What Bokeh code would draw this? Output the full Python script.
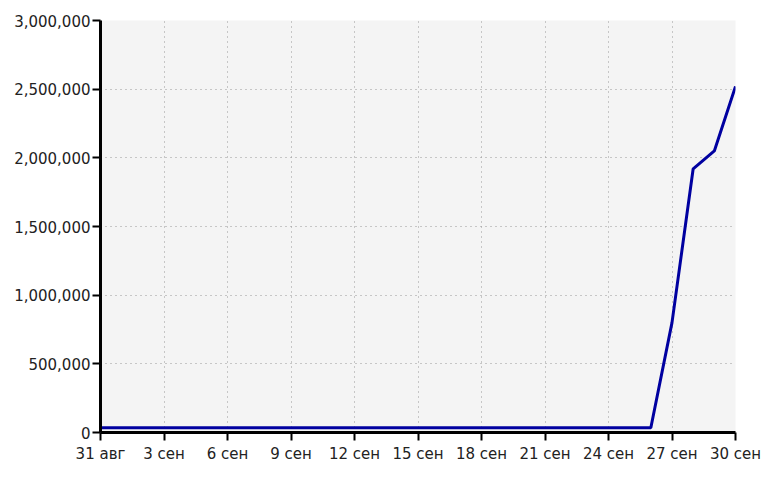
from bokeh.plotting import figure
from bokeh.models import Range1d, FixedTicker, NumeralTickFormatter, Legend, LegendItem
from bokeh.embed import file_html
from bokeh.resources import INLINE

# ---- data ----
dates = ["31 авг"] + [f"{d} сен" for d in range(1, 31)]
views = [35000] * 27 + [800000, 1920000, 2050000, 2520000]
series_name = "Просмотры"
x_tick_idx = list(range(0, 31, 3))
y_ticks = [0, 500000, 1000000, 1500000, 2000000, 2500000, 3000000]

xs = list(range(len(dates)))

p = figure(frame_width=635, frame_height=412, output_backend="svg", toolbar_location=None,
           x_range=Range1d(0, 30), y_range=Range1d(0, 3000000),
           min_border_left=100, min_border_right=26, min_border_top=20, min_border_bottom=62)

p.background_fill_color = "#f4f4f4"
p.border_fill_color = "white"
p.outline_line_color = None

r = p.line(xs, views, line_color="#0000a0", line_width=3)

for ax in (p.xaxis[0], p.yaxis[0]):
    ax.axis_line_color = "black"
    ax.axis_line_width = 3
    ax.major_tick_line_color = "black"
    ax.major_tick_line_width = 2
    ax.major_tick_out = 8
    ax.major_tick_in = 0
    ax.minor_tick_line_color = None
    ax.major_label_text_font = "DejaVu Sans"
    ax.major_label_text_font_size = "15px"
    ax.major_label_text_color = "#222222"

p.xaxis.ticker = FixedTicker(ticks=x_tick_idx)
p.xaxis.major_label_overrides = {i: dates[i] for i in x_tick_idx}
p.xaxis.major_label_standoff = 4
p.yaxis.ticker = FixedTicker(ticks=y_ticks)
p.yaxis.formatter = NumeralTickFormatter(format="0,0")
p.yaxis.major_label_standoff = 2

for g in (p.xgrid[0], p.ygrid[0]):
    g.grid_line_color = "#999999"
    g.grid_line_dash = "1 4"
    g.grid_line_width = 1

legend = Legend(items=[LegendItem(label=series_name, renderers=[r])],
                location="top_left", orientation="vertical",
                glyph_width=45, glyph_height=18, label_height=18, label_standoff=16,
                padding=0, margin=0, border_line_color=None,
                background_fill_alpha=0,
                label_text_font="DejaVu Sans", label_text_font_style="bold",
                label_text_font_size="16px", label_text_color="#00009c")
p.add_layout(legend, "below")

open("out.html", "w").write(file_html(p, INLINE))
